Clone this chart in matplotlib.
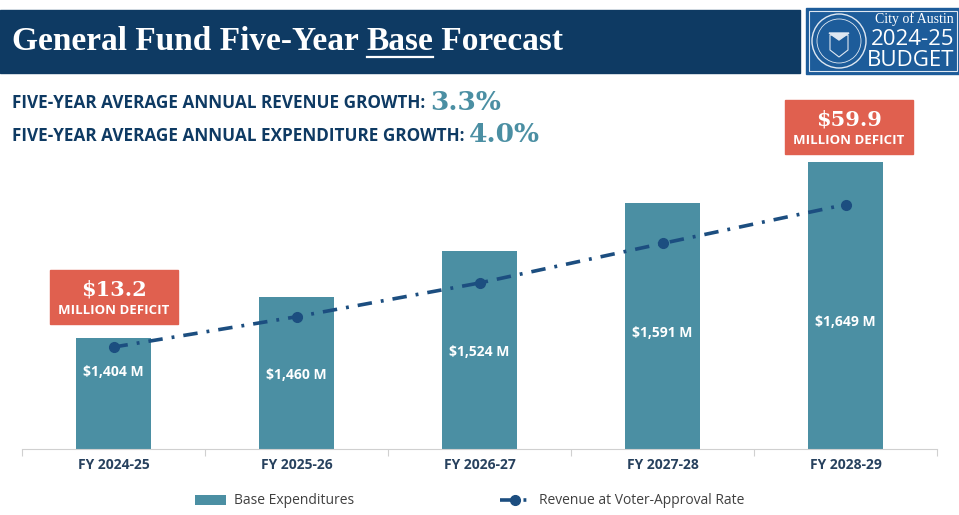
import numpy as np
import matplotlib.pyplot as plt
from matplotlib.patches import Rectangle, Ellipse, Polygon

# data
years = ["FY 2024-25", "FY 2025-26", "FY 2026-27", "FY 2027-28", "FY 2028-29"]
expenditures = [1404, 1460, 1524, 1591, 1649]
revenue = [1390.8, 1433, 1480, 1535, 1589.1]
deficit_labels = ["$13.2", "$59.9"]
rev_growth = "3.3%"
exp_growth = "4.0%"

navy = "#0e3a63"
teal = "#4b8fa3"
line_blue = "#1c4e80"
red = "#e0604f"
sans = "Open Sans"
serif = "Liberation Serif"

fig = plt.figure(figsize=(9.59, 5.15), dpi=100)
r = fig.canvas.get_renderer()

# header band
fig.patches.append(Rectangle((0, 1 - 73/515), 800/959, 63/515, transform=fig.transFigure,
                             color=navy, zorder=0))
ty = 1 - 42/515
t1 = fig.text(12/959, ty, "General Fund Five-Year ", color="white", fontsize=24,
              fontweight="bold", family=serif, va="center")
e1 = t1.get_window_extent(r)
tb = fig.text(e1.x1/959, ty, "Base", color="white", fontsize=24,
              fontweight="bold", family=serif, va="center")
bb = tb.get_window_extent(r)
fig.text(bb.x1/959, ty, " Forecast", color="white", fontsize=24,
         fontweight="bold", family=serif, va="center")
fig.lines.append(plt.Line2D([bb.x0/959, bb.x1/959], [1 - 57/515]*2, color="white",
                            lw=1.6, transform=fig.transFigure))

# logo box
fig.patches.append(Rectangle((806/959, 1 - 74/515), 153/959, 66/515, transform=fig.transFigure,
                             color="#1d5c9a", zorder=0))
fig.patches.append(Rectangle((809/959, 1 - 71/515), 148/959, 60/515, transform=fig.transFigure,
                             fill=False, ec="#dfe8f2", lw=0.8))
cx, cy = 839/959, 1 - 41/515
fig.patches.append(Ellipse((cx, cy), 54/959, 54/515, transform=fig.transFigure, fill=False,
                           ec="#dfe8f2", lw=1))
fig.patches.append(Ellipse((cx, cy), 44/959, 44/515, transform=fig.transFigure, fill=False,
                           ec="#dfe8f2", lw=0.6))
fig.patches.append(Polygon([(830/959, 1 - 35/515), (848/959, 1 - 35/515), (848/959, 1 - 50/515),
                            (839/959, 1 - 57/515), (830/959, 1 - 50/515)],
                           transform=fig.transFigure, fill=False, ec="#dfe8f2", lw=0.8))
fig.patches.append(Polygon([(829/959, 1 - 33/515), (849/959, 1 - 33/515), (839/959, 1 - 40/515)],
                           transform=fig.transFigure, color="#dfe8f2"))
fig.text(954/959, 1 - 23/515, "City of Austin", color="white", fontsize=10, family=serif,
         ha="right", va="baseline")
fig.text(954/959, 1 - 45/515, "2024-25", color="white", fontsize=16, family=sans,
         ha="right", va="baseline")
fig.text(954/959, 1 - 66/515, "BUDGET", color="white", fontsize=16, family=sans,
         ha="right", va="baseline")

# growth lines
for yy, label, val in [(103, "FIVE-YEAR AVERAGE ANNUAL REVENUE GROWTH: ", rev_growth),
                       (136, "FIVE-YEAR AVERAGE ANNUAL EXPENDITURE GROWTH: ", exp_growth)]:
    tx = fig.text(12/959, 1 - yy/515, label, color=navy, fontsize=12.3, fontweight="bold",
                  family=sans, va="center")
    e = tx.get_window_extent(r)
    fig.text(e.x1/959, 1 - (yy - 1)/515, val, color=teal, fontsize=19, fontweight="bold",
             family="DejaVu Serif", va="center")

# chart
ax = fig.add_axes([22/959, 66/515, 915/959, 299/515])
x = np.arange(len(years))
bars = ax.bar(x, expenditures, width=0.405, color=teal, label="Base Expenditures", zorder=2)
line, = ax.plot(x, revenue, color=line_blue, lw=2.6, linestyle=(0, (4, 2.5, 0.8, 2.5)),
                marker="o", markersize=7, label="Revenue at Voter-Approval Rate", zorder=3)
ax.set_ylim(1249, 1665)
ax.set_xlim(-0.5, 4.5)
for s in ["top", "right", "left"]:
    ax.spines[s].set_visible(False)
ax.spines["bottom"].set_color("#d0d0d0")
ax.set_yticks([])
ax.set_xticks(np.arange(-0.5, 5, 1))
ax.set_xticklabels([])
ax.tick_params(axis="x", length=5, color="#d0d0d0")
for i, yr in enumerate(years):
    ax.text(i, -0.055, yr, transform=ax.get_xaxis_transform(), ha="center", va="center",
            fontsize=10, fontweight="bold", family=sans, color="#27415e")

label_frac = [0.69, 0.49, 0.49, 0.47, 0.44]
for i, v in enumerate(expenditures):
    ax.text(i, 1249 + (v - 1249) * label_frac[i], f"${v:,} M", ha="center", va="center",
            color="white", fontsize=10, fontweight="bold", family=sans, zorder=4)

# deficit boxes
for (bx, by), lab in zip([(50, 270), (785, 100)], deficit_labels):
    fig.patches.append(Rectangle((bx/959, 1 - (by + 54)/515), 128/959, 54/515,
                                 transform=fig.transFigure, color=red, zorder=5))
    fig.text((bx + 64)/959, 1 - (by + 19)/515, lab, color="white", fontsize=15,
             fontweight="bold", family="DejaVu Serif", ha="center", va="center", zorder=6)
    fig.text((bx + 64)/959, 1 - (by + 41)/515, "MILLION DEFICIT", color="white", fontsize=9.5,
             fontweight="bold", family=sans, ha="center", va="center", zorder=6)

fig.legend(handles=[bars, line], loc="center", bbox_to_anchor=(0.49, 1 - 501/515), ncol=2,
           frameon=False, columnspacing=10.5, handlelength=2.2, handletextpad=0.6,
           prop={"family": sans, "size": 10}, labelcolor="#404040")

fig.savefig("out.png", dpi=100)
